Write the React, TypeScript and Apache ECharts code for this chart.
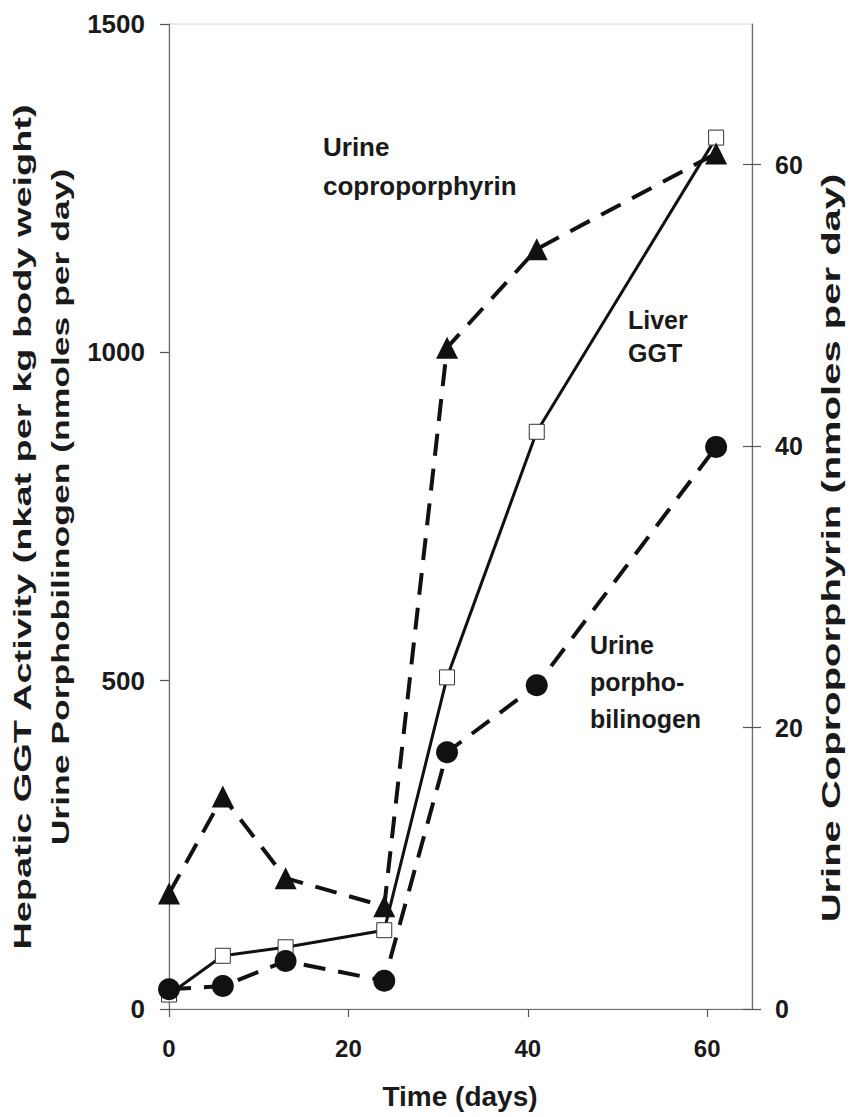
import { useEffect, useRef } from "react";
import * as echarts from "echarts";

const days = [0, 6, 13, 24, 31, 41, 61];
const liverGGT = [22, 81, 94, 120, 505, 879, 1327];
const urinePBG = [30, 35, 73, 43, 391, 493, 856];
const urineCopro = [8.2, 15.1, 9.3, 7.3, 47.0, 54.0, 60.8];
const xTicks = [0, 20, 40, 60];
const leftTicks = [0, 500, 1000, 1500];
const rightTicks = [0, 20, 40, 60];

const FONT = "'Liberation Sans', Arial, Helvetica, sans-serif";
const INK = "#1a1a1a";

export default function App() {
  const ref = useRef<HTMLDivElement>(null);
  useEffect(() => {
    const chart = echarts.init(ref.current!, null, { renderer: "svg" });
    const axisLine = { show: true, lineStyle: { color: "#6a6a6a", width: 1.2 } };
    const tickStyle = { color: "#555", width: 1.2 };
    const lbl = (size: number, margin: number, values: number[]) => ({
      customValues: values,
      fontSize: size,
      fontWeight: "bold",
      fontFamily: FONT,
      color: INK,
      margin,
      formatter: (v: number) => String(v),
    });
    const pts = (arr: number[]) => days.map((d, i) => [d, arr[i]]);
    const txt = (
      text: string,
      x: number,
      y: number,
      size: number,
      extra: any = {}
    ) => ({
      type: "text",
      x,
      y,
      rotation: extra.rotation || 0,
      scaleX: extra.scaleX || 1,
      style: {
        text,
        fontSize: size,
        fontWeight: "bold",
        fontFamily: FONT,
        fill: INK,
        textAlign: extra.align || "left",
        textVerticalAlign: "middle",
        lineHeight: extra.lh || size * 1.3,
      },
    });
    chart.setOption({
      animation: false,
      backgroundColor: "#ffffff",
      grid: {
        left: 169,
        right: 99,
        top: 24,
        bottom: 108,
        show: true,
        borderColor: "#d4d4d4",
        borderWidth: 1,
      },
      xAxis: {
        type: "value",
        min: 0,
        max: 65,
        interval: 20,
        axisLine,
        axisTick: { show: true, customValues: xTicks, length: 8, lineStyle: tickStyle },
        axisLabel: lbl(24, 27, xTicks),
        splitLine: { show: false },
      },
      yAxis: [
        {
          type: "value",
          position: "left",
          min: 0,
          max: 1500,
          interval: 500,
          axisLine,
          axisTick: { show: true, customValues: leftTicks, length: 9, lineStyle: tickStyle },
          axisLabel: lbl(26, 24, leftTicks),
          splitLine: { show: false },
        },
        {
          type: "value",
          position: "right",
          min: 0,
          max: 70,
          interval: 20,
          axisLine,
          axisTick: { show: true, customValues: rightTicks, length: 9, lineStyle: tickStyle },
          axisLabel: lbl(25, 23, rightTicks),
          splitLine: { show: false },
        },
        {
          type: "value",
          position: "right",
          min: 0,
          max: 70,
          interval: 20,
          axisLine: { show: false },
          axisTick: {
            show: true,
            inside: true,
            customValues: rightTicks,
            length: 9,
            lineStyle: tickStyle,
          },
          axisLabel: { show: false },
          splitLine: { show: false },
        },
      ],
      series: [
        {
          name: "Liver GGT",
          type: "line",
          yAxisIndex: 0,
          data: pts(liverGGT),
          symbol: "rect",
          symbolSize: 15,
          lineStyle: { color: "#111", width: 3 },
          itemStyle: { color: "#ffffff", borderColor: "#333", borderWidth: 1 },
          z: 2,
        },
        {
          name: "Urine coproporphyrin",
          type: "line",
          yAxisIndex: 1,
          data: pts(urineCopro),
          symbol: "triangle",
          symbolSize: 22,
          lineStyle: { color: "#111", width: 4, type: [22, 13] },
          itemStyle: { color: "#111" },
          z: 3,
        },
        {
          name: "Urine porphobilinogen",
          type: "line",
          yAxisIndex: 0,
          data: pts(urinePBG),
          symbol: "circle",
          symbolSize: 22,
          lineStyle: { color: "#111", width: 4, type: [22, 13] },
          itemStyle: { color: "#111" },
          z: 4,
        },
      ],
      graphic: [
        txt("Urine\ncoproporphyrin", 323, 166, 26, { lh: 39 }),
        txt("Liver\nGGT", 628, 336, 25, { lh: 33 }),
        txt("Urine\nporpho-\nbilinogen", 590, 682, 25, { lh: 37 }),
        txt("Time (days)", 460, 1096, 28, { align: "center" }),
        txt("Hepatic GGT Activity (nkat per kg body weight)", 23, 527, 24, {
          align: "center",
          rotation: Math.PI / 2,
          scaleX: 1.58,
        }),
        txt("Urine Porphobilinogen (nmoles per day)", 61, 507, 24, {
          align: "center",
          rotation: Math.PI / 2,
          scaleX: 1.48,
        }),
        txt("Urine Coproporphyrin (nmoles per day)", 831, 548, 25, {
          align: "center",
          rotation: Math.PI / 2,
          scaleX: 1.6,
        }),
      ],
    });
    return () => chart.dispose();
  }, []);
  return (
    <div
      ref={ref}
      style={{ position: "absolute", left: 0, top: 0, width: 851, height: 1117 }}
    />
  );
}
